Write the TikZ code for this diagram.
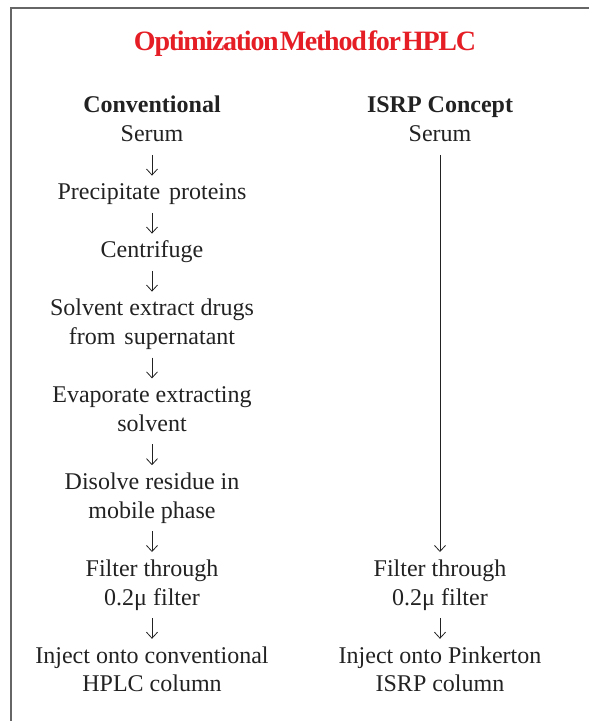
\documentclass[tikz,border=0pt]{standalone}
\usepackage{fontspec}
\setmainfont{Liberation Serif}
\usetikzlibrary{arrows.meta,positioning}
\definecolor{titlered}{HTML}{E51E26}
\definecolor{framegray}{HTML}{666666}
\definecolor{inkgray}{HTML}{222222}
\tikzset{
  frameline/.style={draw=framegray,line width=1.6pt},
  titletext/.style={text=titlered,font=\fontsize{28}{32}\selectfont\bfseries\addfontfeature{LetterSpace=-4.5},inner sep=0pt},
  headtext/.style={text=inkgray,font=\fontsize{24}{28.8}\selectfont\bfseries,inner sep=0pt,align=center,
    execute at begin node=\strut,execute at end node=\strut},
  steptext/.style={text=inkgray,font=\fontsize{24}{28.8}\selectfont,inner sep=0pt,align=center,
    execute at begin node=\strut,execute at end node=\strut},
  flow/.style={draw=inkgray,-{Straight Barb[length=6pt,width=11pt]},line width=.8pt,
    shorten <=4pt,shorten >=4pt},
}

\begin{document}
\begin{tikzpicture}[node distance=28.8pt]
			\useasboundingbox (0,0) rectangle (589pt,-721pt);
			\draw[frameline] (11pt,-8pt) rectangle (620pt,-760pt);
			
			\node[titletext,anchor=base] (title) at (305pt,-50pt)
			{Optimization\hspace{1pt}Method\hspace{1pt}for\hspace{1pt}HPLC};
			
			% conventional route
			\node[headtext] (conv) at (152pt,-107pt) {Conventional};
			\node[steptext,below=0pt of conv] (serumL) {Serum};
			\node[steptext,below=of serumL] (precip) {Precipitate\hspace{3pt} proteins};
			\node[steptext,below=of precip] (centri) {Centrifuge};
			\node[steptext,below=of centri] (extract)
			{\strut Solvent extract drugs\\\strut from\hspace{3pt} supernatant\strut};
			\node[steptext,below=of extract] (evap)
			{\strut Evaporate extracting\\\strut solvent\strut};
			\node[steptext,below=of evap] (dissolve)
			{\strut Disolve residue in\\\strut mobile phase\strut};
			\node[steptext,below=of dissolve] (filterL)
			{\strut Filter through\\\strut 0.2μ filter\strut};
			\node[steptext,below=of filterL] (injectL)
			{\strut Inject onto conventional\\\strut HPLC column\strut};
			
			% ISRP route
			\node[headtext] (isrp) at (440pt,-107pt) {ISRP Concept};
			\node[steptext,below=0pt of isrp] (serumR) {Serum};
			\node[steptext] (filterR) at (isrp |- filterL)
			{\strut Filter through\\\strut 0.2μ filter\strut};
			\node[steptext,below=of filterR] (injectR)
			{\strut Inject onto Pinkerton\\\strut ISRP column\strut};
			
			\draw[flow] (serumL)--(precip);
			\draw[flow] (precip)--(centri);
			\draw[flow] (centri)--(extract);
			\draw[flow] (extract)--(evap);
			\draw[flow] (evap)--(dissolve);
			\draw[flow] (dissolve)--(filterL);
			\draw[flow] (filterL)--(injectL);
			\draw[flow] (serumR)--(filterR);
			\draw[flow] (filterR)--(injectR);
		\end{tikzpicture}
\end{document}
